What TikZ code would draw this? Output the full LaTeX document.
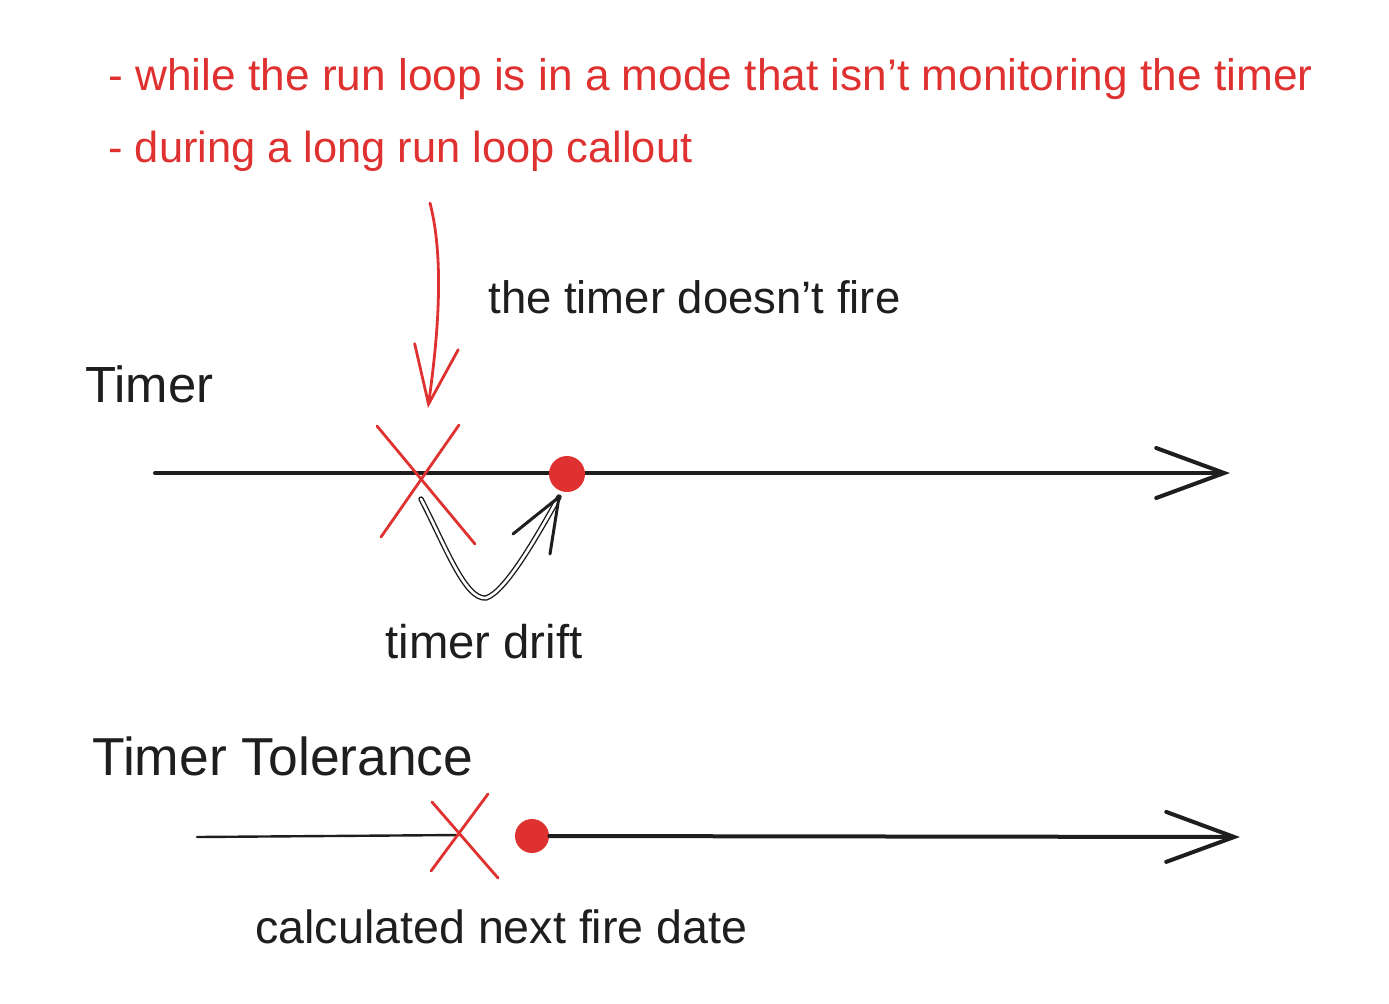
\documentclass[tikz,border=0pt]{standalone}
\usepackage{fontspec}
\setmainfont{Liberation Sans}
\usetikzlibrary{arrows.meta}
\definecolor{exred}{HTML}{E03131}
\definecolor{exblack}{HTML}{1E1E1E}
\tikzset{
  txt/.style={inner sep=0pt, anchor=base west},
  redtxt/.style={txt, text=exred},
  blktxt/.style={txt, text=exblack},
  axis/.style={draw=exblack, line width=2pt, line cap=round,
    -{Straight Barb[length=34pt,width=25pt,line width=2pt,line cap=round]}},
  thinaxis/.style={draw=exblack, line width=1.2pt, line cap=round},
  cross/.style={draw=exred, line width=1.4pt, line cap=round},
  reddot/.style={circle, fill=exred, inner sep=0pt, minimum size=18pt},
  redarrow/.style={draw=exred, line width=1.4pt, line cap=round,
    -{Straight Barb[length=29pt,width=22pt,line width=1.4pt,line cap=round]}},
  drift/.style={draw=exblack, line width=0.7pt, double=white, double distance=1.3pt, line cap=round},
  barb/.style={draw=exblack, line width=1.5pt, line cap=round, line join=round}
}
\begin{document}
\begin{tikzpicture}[x=0.5pt, y=-0.5pt]
\useasboundingbox (0,0) rectangle (1389,1003);
% texts
\node[redtxt] (l1) at (108,90) {\resizebox{602pt}{!}{- while the run loop is in a mode that isn't monitoring the timer}};
\node[redtxt] (l2) at (108,162) {\resizebox{292pt}{!}{- during a long run loop callout}};
\node[blktxt] (nofire) at (488,313) {\resizebox{206pt}{!}{the timer doesn't fire}};
\node[blktxt] (timer) at (85,402) {\resizebox{64pt}{!}{Timer}};
\node[blktxt] (drifttxt) at (385,658) {\resizebox{98.5pt}{!}{timer drift}};
\node[blktxt] (tol) at (92,775) {\resizebox{190.5pt}{!}{Timer Tolerance}};
\node[blktxt] (calc) at (255,943) {\resizebox{246pt}{!}{calculated next fire date}};
% timer axis
\coordinate (a1s) at (155,473);
\coordinate (a1e) at (1230,473);
\draw[axis] (a1s) -- (a1e);
% red cross 1
\coordinate (x1a) at (377,426);
\coordinate (x1b) at (475,544);
\coordinate (x1c) at (459,425);
\coordinate (x1d) at (381,537);
\draw[cross] (x1a) -- (x1b);
\draw[cross] (x1c) -- (x1d);
% red dot 1
\node[reddot] (dot1) at (567,474) {};
% red arrow from text to cross
\coordinate (ra1) at (430,203);
\coordinate (ra2) at (428,408);
\draw[redarrow] (ra1) .. controls (446,265) and (436,350) .. (ra2);
% drift arrow
\coordinate (ds) at (421,499);
\coordinate (dbot) at (486,598);
\coordinate (dtip) at (559,497);
\coordinate (db1) at (513,534);
\coordinate (db2) at (550,554);
\draw[drift] (ds) .. controls (445,545) and (465,600) .. (dbot) .. controls (505,592) and (535,540) .. (dtip);
\draw[barb] (db1) -- (dtip) -- (db2);
% tolerance axis
\coordinate (a2s) at (197,837);
\coordinate (a2m) at (460,835);
\node[reddot, minimum size=17pt] (dot2) at (532,836) {};
\coordinate (a2e) at (1240,837);
\draw[thinaxis] (a2s) -- (a2m);
\draw[axis] (dot2.east) -- (a2e);
% red cross 2
\coordinate (x2a) at (432,802);
\coordinate (x2b) at (498,878);
\coordinate (x2c) at (488,794);
\coordinate (x2d) at (431,871);
\draw[cross] (x2a) -- (x2b);
\draw[cross] (x2c) -- (x2d);
\end{tikzpicture}
\end{document}
